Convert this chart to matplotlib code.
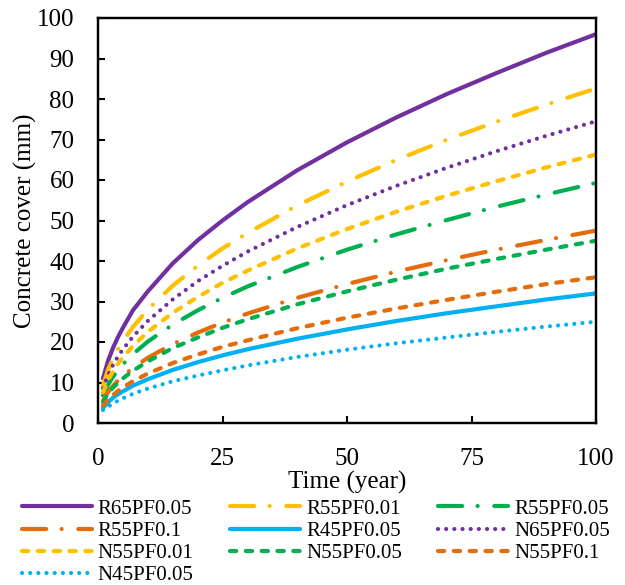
import matplotlib
matplotlib.use("Agg")
import matplotlib.pyplot as plt

# === DATA ===
years = [1, 2, 3, 4, 5, 7, 10, 15, 20, 25, 30, 40, 50, 60, 70, 80, 90, 100]

r65_pf005 = [11.0, 15.3, 18.5, 21.2, 23.5, 27.8, 32.5, 39.4, 45.1, 50.0, 54.5, 62.4, 69.3, 75.5, 81.2, 86.4, 91.4, 96.0]
r55_pf001 = [9.3, 13.1, 15.9, 18.2, 20.2, 23.7, 28.0, 33.9, 38.8, 43.1, 46.9, 53.7, 59.6, 65.0, 69.9, 74.4, 78.6, 82.6]
r55_pf005 = [6.8, 9.4, 11.4, 13.0, 14.5, 17.0, 20.1, 24.3, 27.8, 30.9, 33.7, 38.5, 42.8, 46.6, 50.1, 53.4, 56.4, 59.3]
r55_pf01 = [5.5, 7.6, 9.1, 10.5, 11.6, 13.6, 16.1, 19.5, 22.3, 24.8, 27.0, 30.9, 34.3, 37.4, 40.2, 42.8, 45.2, 47.5]
r45_pf005 = [3.7, 5.1, 6.2, 7.1, 7.8, 9.2, 10.8, 13.1, 15.0, 16.7, 18.2, 20.8, 23.1, 25.2, 27.1, 28.8, 30.5, 32.0]
n65_pf005 = [8.6, 11.8, 14.3, 16.4, 18.2, 21.3, 25.2, 30.5, 35.0, 38.8, 42.3, 48.4, 53.8, 58.6, 63.0, 67.1, 70.9, 74.5]
n55_pf001 = [7.6, 10.5, 12.8, 14.6, 16.2, 19.0, 22.5, 27.2, 31.1, 34.6, 37.6, 43.1, 47.9, 52.2, 56.1, 59.7, 63.1, 66.3]
n55_pf005 = [5.2, 7.2, 8.7, 9.9, 11.0, 12.9, 15.2, 18.5, 21.1, 23.5, 25.6, 29.3, 32.5, 35.4, 38.1, 40.5, 42.8, 45.0]
n55_pf01 = [4.3, 5.7, 6.9, 7.9, 8.8, 10.3, 12.2, 14.8, 16.9, 18.8, 20.4, 23.4, 26.0, 28.3, 30.4, 32.4, 34.3, 36.0]
n45_pf005 = [3.2, 4.0, 4.8, 5.5, 6.1, 7.2, 8.5, 10.3, 11.7, 13.0, 14.2, 16.3, 18.1, 19.7, 21.1, 22.5, 23.8, 25.0]

labels = ["R65PF0.05", "R55PF0.01", "R55PF0.05", "R55PF0.1", "R45PF0.05",
          "N65PF0.05", "N55PF0.01", "N55PF0.05", "N55PF0.1", "N45PF0.05"]
series = [r65_pf005, r55_pf001, r55_pf005, r55_pf01, r45_pf005,
          n65_pf005, n55_pf001, n55_pf005, n55_pf01, n45_pf005]

# === STYLE ===
PURPLE = "#7030A0"
YELLOW = "#FFC000"
GREEN = "#00B050"
ORANGE = "#E46C0A"
BLUE = "#00B0F0"

SOLID = "-"
LONG_DASH_DOT = (0, (5.8, 3.7, 0.01, 4.0))
DASH = (0, (1.5, 2.3))
ROUND_DOT = (0, (0.01, 1.95))

colors = [PURPLE, YELLOW, GREEN, ORANGE, BLUE, PURPLE, YELLOW, GREEN, ORANGE, BLUE]
styles = [SOLID, LONG_DASH_DOT, LONG_DASH_DOT, LONG_DASH_DOT, SOLID,
          ROUND_DOT, DASH, DASH, DASH, ROUND_DOT]

plt.rcParams["font.family"] = ["Liberation Serif", "DejaVu Serif"]

fig = plt.figure(figsize=(6.25, 5.85), dpi=100)
ax = fig.add_axes([98 / 625, 1 - 423 / 585, 498 / 625, 405 / 585])

for lab, ys, col, ls in zip(labels, series, colors, styles):
    ax.plot(years, ys, color=col, linestyle=ls, linewidth=3.0,
            dash_capstyle="round", solid_capstyle="round", label=lab)

ax.set_xlim(0, 100)
ax.set_ylim(0, 100)
ax.set_xticks([0, 25, 50, 75, 100])
ax.set_yticks(range(0, 101, 10))
ax.tick_params(axis="both", direction="in", length=5, width=1.5, labelsize=18)
ax.tick_params(axis="x", pad=18)
ax.tick_params(axis="y", pad=17)
for sp in ax.spines.values():
    sp.set_linewidth(1.75)

ax.set_xlabel("Time (year)", fontsize=18)
ax.set_ylabel("Concrete cover (mm)", fontsize=18)
ax.xaxis.set_label_coords(0.5, -0.118)
ax.yaxis.set_label_coords(-0.1225, 0.5)

# legend reads row by row in the reference, matplotlib fills columns first
handles, labs = ax.get_legend_handles_labels()
nrow = 4
order = []
for c in range(3):
    for r in range(nrow):
        k = r * 3 + c
        if k < len(handles):
            order.append(k)
fig.legend([handles[i] for i in order], [labs[i] for i in order],
           loc="upper left", bbox_to_anchor=(22 / 625, 1 - 499 / 585),
           ncol=3, frameon=False, fontsize=15, handlelength=3.35,
           handletextpad=0.29, columnspacing=1.75, labelspacing=0.13,
           borderpad=0, borderaxespad=0)

fig.savefig("out.png", dpi=100)
